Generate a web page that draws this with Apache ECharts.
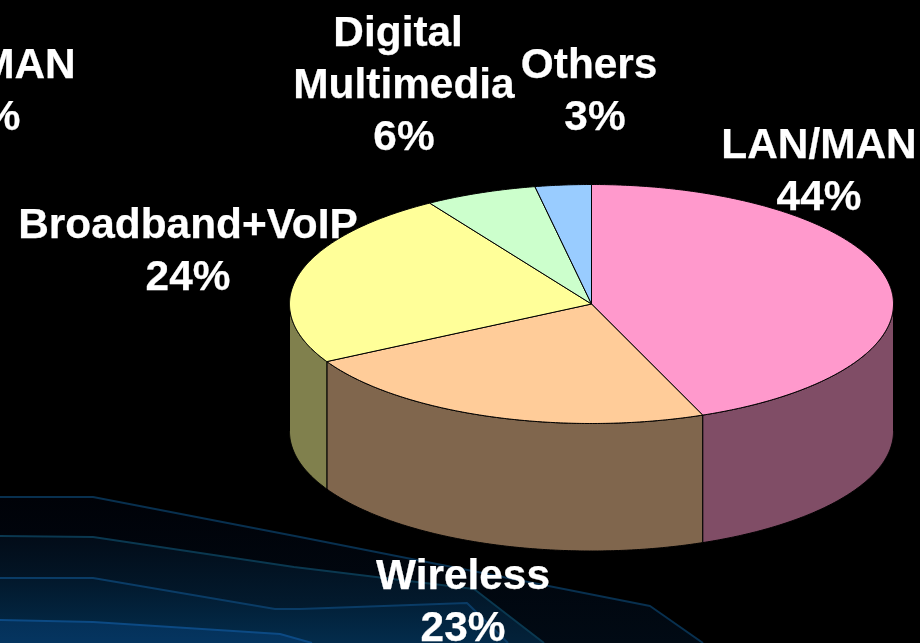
<!DOCTYPE html>
<html>
<head>
<meta charset="utf-8">
<style>html,body{margin:0;padding:0;background:#000}#chart{width:920px;height:643px}</style>
<script src="https://cdn.jsdelivr.net/npm/echarts@6/dist/echarts.min.js"></script>
</head>
<body>
<div id="chart"></div>
<script>
// Market share by segment, clockwise from twelve o'clock
const categories = ['LAN/MAN', 'Wireless', 'Broadband+VoIP', 'Digital \nMultimedia', 'Others '];
const shares = [44, 23, 24, 6, 3];
const topColors = ['#FF99CC', '#FFCC99', '#FFFF99', '#CCFFCC', '#99CCFF'];
const sideColors = ['#804D66', '#80664D', '#80804D', '#668066', '#4D6680'];

// Backdrop ridge lines in page units
const ridgeA = [[0, 497], [93, 497], [300, 537], [650, 606], [703, 643]];
const ridgeB = [[0, 536], [93, 537], [294, 567], [376, 577], [474, 589], [544, 643]];
const ridgeC = [[0, 578], [93, 578], [275, 609], [300, 609], [467, 603], [508, 643]];
const ridgeD = [[0, 620], [93, 622], [280, 634], [312, 643]];

// Disc geometry and label anchors
const disc = { cx: 591.5, cy: 304, rx: 302, ry: 119.5, depth: 127.5 };
const labelAnchors = [[819, 172], [463, 603], [188, 252], [404, 86], [595, 92]];
const clippedLabelAnchor = [-22, 92];

const total = shares.reduce((a, b) => a + b, 0);
const starts = shares.map((_, i) => shares.slice(0, i).reduce((a, b) => a + b, 0) / total * 360);

const rad = d => d * Math.PI / 180;
const rim = (deg, drop) => [
  disc.cx + disc.rx * Math.sin(rad(deg)),
  disc.cy - disc.ry * Math.cos(rad(deg)) + (drop || 0)
];
function arc(from, to, drop) {
  const n = Math.max(2, Math.ceil(Math.abs(to - from) * 2));
  const pts = [];
  for (let k = 0; k <= n; k++) pts.push(rim(from + (to - from) * k / n, drop));
  return pts;
}

function renderDiscSide(params, api) {
  const a = starts[params.dataIndex];
  const b = a + api.value(0) / total * 360;
  const from = Math.max(a, 90), to = Math.min(b, 270);
  if (to <= from) return { type: 'group', children: [] };
  return {
    type: 'polygon',
    shape: { points: arc(from, to, 0).concat(arc(to, from, disc.depth)) },
    style: { fill: sideColors[params.dataIndex], stroke: '#000', lineWidth: 1 }
  };
}

function renderDiscTop(params, api) {
  const a = starts[params.dataIndex];
  const b = a + api.value(0) / total * 360;
  return {
    type: 'polygon',
    shape: { points: [[disc.cx, disc.cy]].concat(arc(a, b, 0)) },
    style: { fill: topColors[params.dataIndex], stroke: '#000', lineWidth: 1 }
  };
}

function labelText(x, y, i) {
  return {
    type: 'text',
    x, y,
    style: {
      text: categories[i] + '\n' + shares[i] + '%',
      fill: '#fff',
      stroke: '#fff',
      lineWidth: 0.25,
      font: 'bold 42.4px "Liberation Sans", Arial, sans-serif',
      lineHeight: 52,
      align: 'center',
      verticalAlign: 'middle'
    }
  };
}

function renderLabel(params, api) {
  const i = params.dataIndex;
  const children = [labelText(labelAnchors[i][0], labelAnchors[i][1], i)];
  if (i === 0) children.push(labelText(clippedLabelAnchor[0], clippedLabelAnchor[1], 0));
  return { type: 'group', children };
}

const items = categories.map((c, i) => ({ name: c, value: [shares[i]] }));

function ridgeSeries(data, lineColor, upper, lower, z) {
  return {
    type: 'line', data, z, symbol: 'none', silent: true,
    lineStyle: { color: lineColor, width: 2 },
    areaStyle: {
      origin: 'end', opacity: 1,
      color: new echarts.graphic.LinearGradient(0, 0, 0, 1, [
        { offset: 0, color: upper }, { offset: 1, color: lower }
      ])
    }
  };
}

const chart = echarts.init(document.getElementById('chart'), null, { renderer: 'canvas' });
chart.setOption({
  animation: false,
  backgroundColor: '#000',
  grid: { left: 0, right: 0, top: 0, bottom: 0 },
  xAxis: { type: 'value', min: 0, max: 920, show: false },
  yAxis: { type: 'value', min: 0, max: 643, inverse: true, show: false },
  series: [
    ridgeSeries(ridgeA, '#08304f', '#000208', '#010a14', 1),
    ridgeSeries(ridgeB, '#0a3850', '#020c18', '#03223a', 2),
    ridgeSeries(ridgeC, '#0a3c66', '#02182b', '#032c4c', 3),
    ridgeSeries(ridgeD, '#0c4a84', '#043058', '#053560', 4),
    { type: 'custom', coordinateSystem: 'none', renderItem: renderDiscSide, data: items, z: 5, silent: true },
    { type: 'custom', coordinateSystem: 'none', renderItem: renderDiscTop, data: items, z: 6, silent: true },
    { type: 'custom', coordinateSystem: 'none', renderItem: renderLabel, data: items, z: 7, silent: true, clip: false }
  ]
});
</script>
</body>
</html>
